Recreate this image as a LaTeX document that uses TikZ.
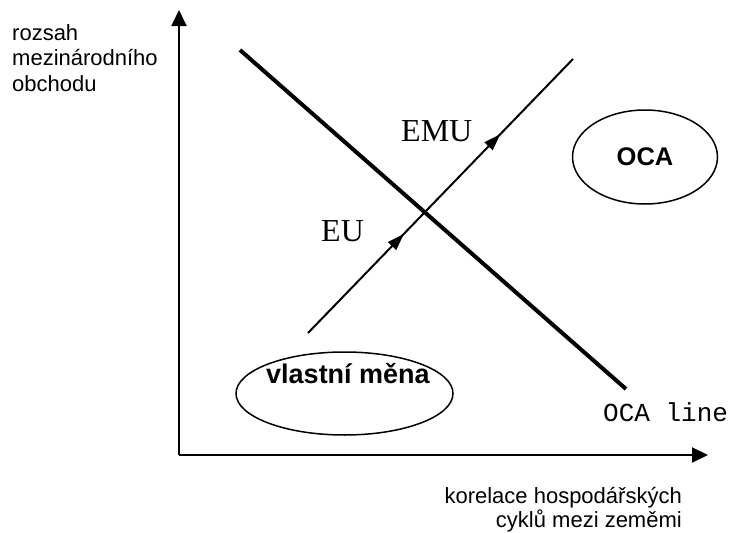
\documentclass[tikz,border=0pt]{standalone}
\usepackage{fontspec}
\setmainfont{Liberation Serif}
\setsansfont{Liberation Sans}
\setmonofont{Liberation Mono}
\usetikzlibrary{arrows.meta,decorations.markings,shapes.geometric}
\begin{document}
\begin{tikzpicture}[x=1pt,y=-1pt,
  axis/.style={line width=2pt,-{Triangle[length=16pt,width=15pt]}},
  ocaline/.style={line width=4pt},
  path/.style={line width=2pt,postaction={decorate},
    decoration={markings,
      mark=at position 0.362 with {\arrow{Triangle[length=17pt,width=11pt]}},
      mark=at position 0.726 with {\arrow{Triangle[length=17pt,width=11pt]}}}},
  oval/.style={draw,ellipse,line width=1.5pt,inner sep=0pt},
  sanslabel/.style={font=\sffamily\fontsize{22}{25.5}\selectfont,inner sep=0pt},
  serlabel/.style={font=\fontsize{32}{36}\selectfont,inner sep=0pt},
  boldlabel/.style={font=\sffamily\bfseries\fontsize{25.5}{30}\selectfont,inner sep=0pt}]
\useasboundingbox (0,0) rectangle (732,533);
% axes
\coordinate (O) at (179,455);
\coordinate (ytip) at (179,10);
\coordinate (xtip) at (708,455);
\draw[axis] (O) -- (ytip);
\draw[axis] (O) -- (xtip);
% OCA line
\coordinate (l1) at (240,50);
\coordinate (l2) at (626,389);
\draw[ocaline] (l1) -- (l2);
% path arrow
\coordinate (p1) at (308,333);
\coordinate (p2) at (573,59);
\draw[path] (p1) -- (p2);
% ellipses
\node[oval,minimum width=145pt,minimum height=94pt] (oca) at (645,157) {};
\node[boldlabel] (ocatext) at (oca.center) {OCA};
\node[oval,minimum width=217pt,minimum height=83pt] (vm) at (344.5,393.5) {};
\node[boldlabel,font=\sffamily\bfseries\fontsize{27}{30}\selectfont,anchor=base] (vmtext) at (348,383) {vlastní měna};
% labels
\node[serlabel,anchor=base west] (emu) at (401,141.7) {EMU};
\node[serlabel,anchor=base west] (eu) at (321,241.7) {EU};
\node[inner sep=0pt,font=\ttfamily\fontsize{26}{30}\selectfont,anchor=base west] (ocal) at (603,421.7) {OCA line};
\node[sanslabel,align=left,anchor=base west] (ylab) at (12,91) {rozsah\\mezinárodního\\obchodu};
\node[sanslabel,font=\sffamily\fontsize{22}{24}\selectfont,align=right,anchor=base east] (xlab) at (682,527) {korelace hospodářských\\cyklů mezi zeměmi};
\end{tikzpicture}
\end{document}
